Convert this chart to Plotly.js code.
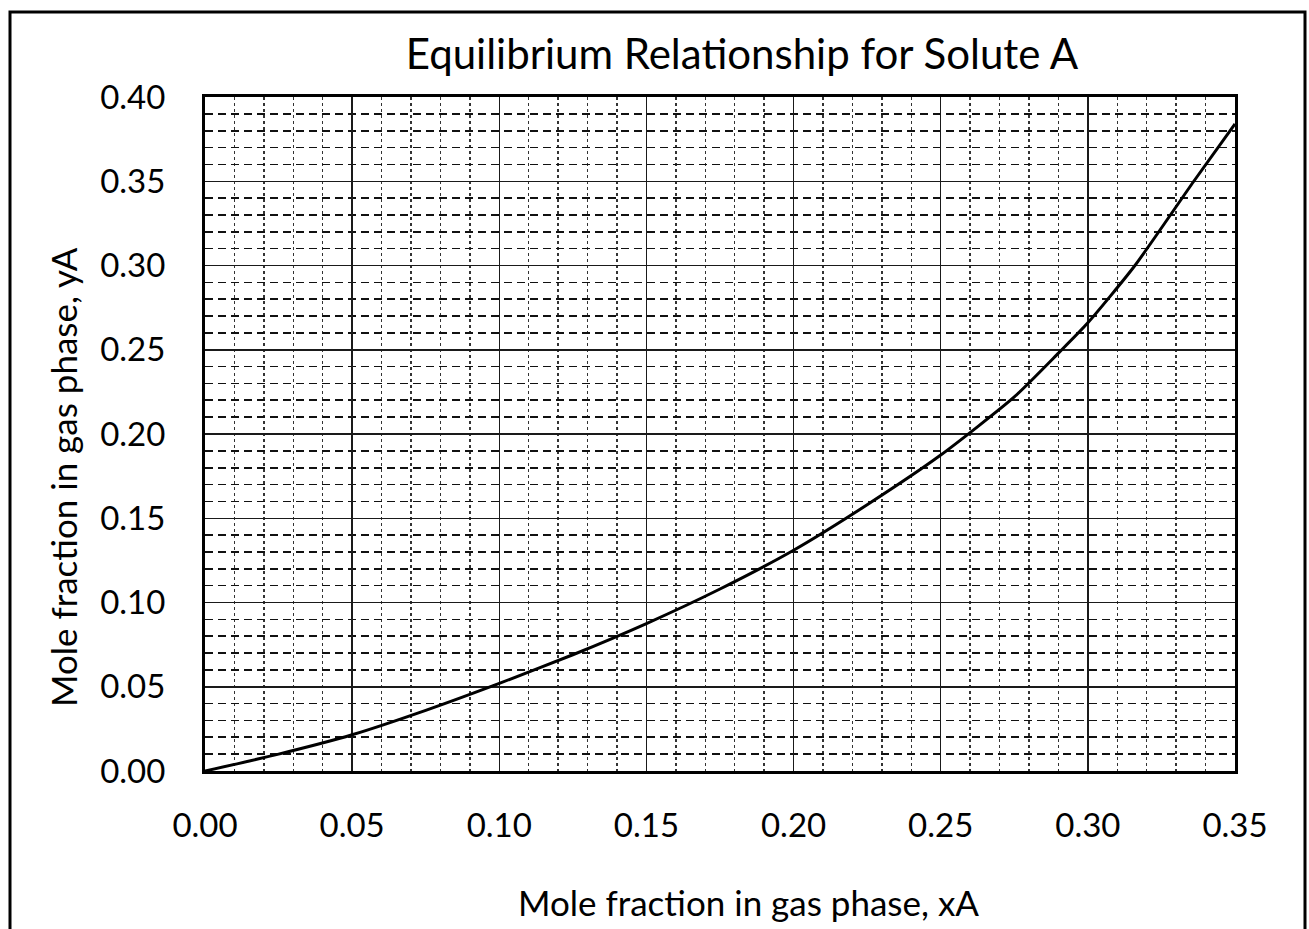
<!DOCTYPE html>
<html>
<head>
<meta charset="utf-8">
<script src="https://cdn.plot.ly/plotly-3.0.1.min.js"></script>
<style>html,body{margin:0;padding:0;background:#fff;}#chart{width:1309px;height:929px;}</style>
</head>
<body>
<div id="chart"></div>
<script>
const xA = [0, 0.025, 0.05, 0.075, 0.10, 0.125, 0.15, 0.175, 0.20, 0.225, 0.25, 0.275, 0.29, 0.30, 0.316, 0.336, 0.35];
const yA = [0, 0.010, 0.0215, 0.036, 0.052, 0.069, 0.0875, 0.108, 0.131, 0.158, 0.1875, 0.222, 0.248, 0.266, 0.300, 0.350, 0.384];
const chartTitle = "Equilibrium Relationship for Solute A";
const xTitle = "Mole fraction in gas phase, xA";
const yTitle = "Mole fraction in gas phase, yA";

const FONT = "Lato, 'Open Sans', sans-serif";
const L = 205, R = 74, T = 97, B = 158, W = 1309, H = 929;
const pw = W - L - R, ph = H - T - B;

const trace = {
  x: xA, y: yA, type: 'scatter', mode: 'lines',
  line: {color: '#000', width: 3, shape: 'spline', smoothing: 0.6},
  hoverinfo: 'x+y', showlegend: false
};

const layout = {
  width: W, height: H,
  margin: {l: L, r: R, t: T, b: B, pad: 0},
  paper_bgcolor: '#fff', plot_bgcolor: '#fff',
  font: {family: FONT, color: '#000'},
  title: {text: chartTitle, font: {family: FONT, size: 42, color: '#000'},
          x: 742 / W, xanchor: 'center', y: 1 - 54 / H, yanchor: 'middle', xref: 'container', yref: 'container'},
  xaxis: {
    range: [0, 0.35], dtick: 0.05, tick0: 0, tickformat: '.2f',
    showgrid: true, gridcolor: '#1a1a1a', gridwidth: 1.5,
    minor: {dtick: 0.01, showgrid: true, gridcolor: '#333', griddash: 'dot', gridwidth: 1.5, ticks: ''},
    showline: true, linecolor: '#000', linewidth: 3, mirror: true,
    ticks: '', ticklabelstandoff: 23,
    tickfont: {family: FONT, size: 33, color: '#000'},
    zeroline: false
  },
  yaxis: {
    range: [0, 0.40], dtick: 0.05, tick0: 0, tickformat: '.2f',
    showgrid: true, gridcolor: '#1a1a1a', gridwidth: 1.5,
    minor: {dtick: 0.01, showgrid: true, gridcolor: '#111', griddash: '8px,5px', gridwidth: 1.6, ticks: ''},
    showline: true, linecolor: '#000', linewidth: 3, mirror: true,
    ticks: '', ticklabelstandoff: 30,
    tickfont: {family: FONT, size: 33, color: '#000'},
    zeroline: false
  },
  annotations: [
    {text: xTitle, xref: 'paper', yref: 'paper', x: (748 - L) / pw, y: (H - B - 902) / ph,
     xanchor: 'center', yanchor: 'middle', showarrow: false,
     font: {family: FONT, size: 35, color: '#000'}},
    {text: yTitle, xref: 'paper', yref: 'paper', x: (63 - L) / pw, y: (H - B - 477) / ph,
     xanchor: 'center', yanchor: 'middle', showarrow: false, textangle: -90,
     font: {family: FONT, size: 35, color: '#000'}}
  ],
  shapes: [{
    type: 'rect', xref: 'paper', yref: 'paper',
    x0: (10 - L) / pw, x1: (1305 - L) / pw,
    y0: (H - B - 945) / ph, y1: (H - B - 12) / ph,
    line: {color: '#000', width: 3}, fillcolor: 'rgba(0,0,0,0)', layer: 'above'
  }]
};

Plotly.newPlot('chart', [trace], layout, {displayModeBar: false, staticPlot: true});
</script>
</body>
</html>
